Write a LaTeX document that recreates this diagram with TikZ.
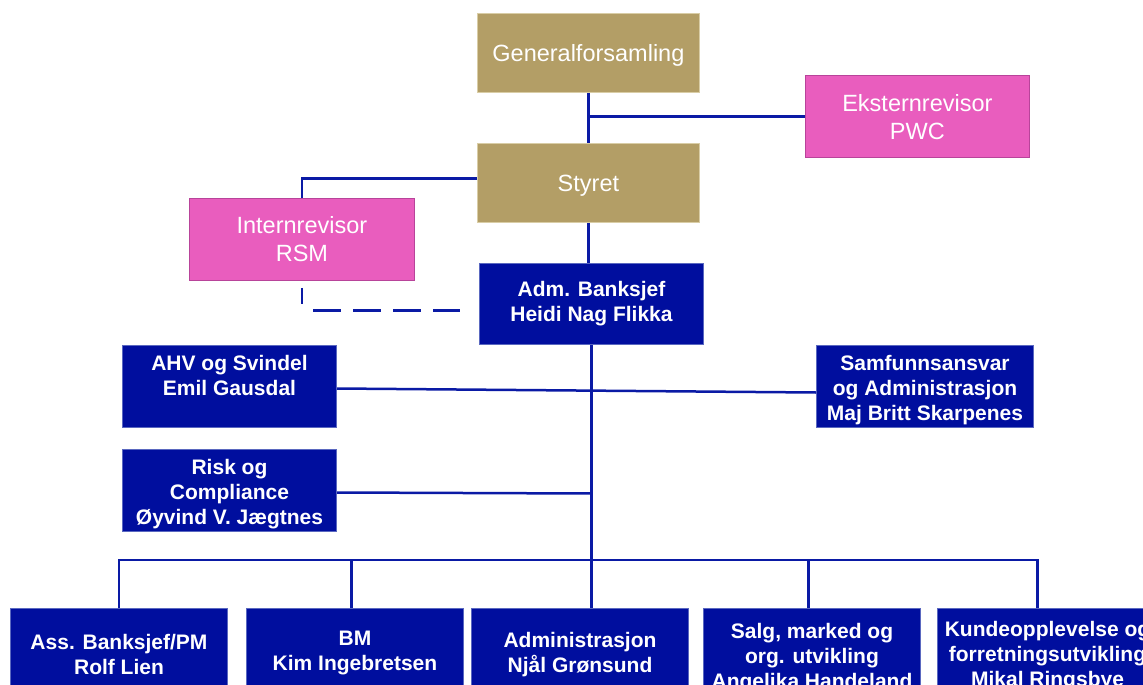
\documentclass[tikz,border=0pt]{standalone}
\usepackage{fontspec}
\setmainfont{Liberation Sans}
\definecolor{gold}{HTML}{B39E66}
\definecolor{goldedge}{HTML}{D9CDA6}
\definecolor{pinkbox}{HTML}{E95DBE}
\definecolor{pinkedge}{HTML}{B8449A}
\definecolor{bluebox}{HTML}{000E9E}
\definecolor{blueedge}{HTML}{5A68C0}
\definecolor{linkblue}{HTML}{0A1AA5}
\newcommand{\tp}[1]{\rule{0pt}{#1}}
\begin{document}
\begin{tikzpicture}[x=1pt,y=-1pt,
  box/.style={anchor=north west, inner sep=0pt, align=center, text=white},
  goldbox/.style={box, fill=gold, draw=goldedge, line width=0.8pt,
     font=\fontsize{23.5}{28}\selectfont},
  pinkbx/.style={box, fill=pinkbox, draw=pinkedge, line width=0.8pt,
     font=\fontsize{23.5}{28}\selectfont},
  bluebx/.style={box, fill=bluebox, draw=blueedge, line width=1pt,
     font=\bfseries\fontsize{21}{25}\selectfont},
  link/.style={draw=linkblue, line width=2.5pt},
  dlink/.style={draw=linkblue, line width=2.5pt,
     dash pattern=on 16pt off 18pt on 28pt off 12pt on 28pt off 12pt on 28pt off 12pt on 28pt off 60pt}
]
\useasboundingbox (0,0) rectangle (1143,685);
\clip (0,0) rectangle (1143,685);

% nodes
\node[goldbox, minimum width=222pt, minimum height=79pt] (gen) at (477,13) {\tp{23pt}Generalforsamling};
\node[pinkbx, minimum width=224pt, minimum height=82pt] (eks) at (805,75) {\tp{19pt}Eksternrevisor\\PWC};
\node[goldbox, minimum width=222pt, minimum height=79pt] (sty) at (477,143) {\tp{23pt}Styret};
\node[pinkbx, minimum width=225pt, minimum height=82pt] (int) at (189,198) {Internrevisor\\RSM};
\node[bluebx, minimum width=224pt, minimum height=81pt] (adm) at (479,263) {Adm. Banksjef\\Heidi Nag Flikka};
\node[bluebx, minimum width=214pt, minimum height=82pt] (ahv) at (122,345) {\tp{23pt}AHV og Svindel\\Emil Gausdal\\\rule[-4.5pt]{0pt}{4.5pt}};
\node[bluebx, minimum width=217pt, minimum height=82pt] (sam) at (816,345) {\tp{23pt}Samfunnsansvar\\og Administrasjon\\Maj Britt Skarpenes};
\node[bluebx, minimum width=214pt, minimum height=82pt] (risk) at (122,449) {\tp{23pt}Risk og\\Compliance\\Øyvind V. Jægtnes};
\node[bluebx, minimum width=217pt, minimum height=92pt] (b1) at (10,608) {Ass. Banksjef/PM\\Rolf Lien};
\node[bluebx, minimum width=217pt, minimum height=88pt] (b2) at (246,608) {BM\\Kim Ingebretsen};
\node[bluebx, minimum width=217pt, minimum height=92pt] (b3) at (471,608) {Administrasjon\\Njål Grønsund};
\node[bluebx, minimum width=217pt, minimum height=94pt] (b4) at (703,608) {\tp{19.5pt}Salg, marked og\\org. utvikling\\Angelika Handeland};
\node[bluebx, minimum width=220pt, minimum height=90pt] (b5) at (937,608) {\tp{19.5pt}Kundeopplevelse og\\forretningsutvikling\\Mikal Ringsbye};

% connectors
\draw[link] (gen.south) -- (sty.north);
\draw[link] (eks.west) -- (eks.west -| gen.south);
\draw[link] ([yshift=4.5pt]sty.west) -| (int.north);
\draw[link] (sty.south) -- (sty.south |- adm.north);
\coordinate (dstart) at ([yshift=-7pt]int.south);
\coordinate (dend) at ([xshift=-19pt,yshift=-6.5pt]adm.west);
\draw[dlink] (dstart) |- (dend);
\coordinate (bus) at ([yshift=48pt]b3.north -| adm.south);
\draw[link] (adm.south) -- (adm.south |- b3.north);
\draw[link] ([yshift=-2pt]ahv.east) -- ([yshift=-6pt]sam.west);
\draw[link] ([yshift=-2pt]risk.east) -- ([yshift=-3pt]risk.east -| adm.south);
\draw[link] (b1.north) |- (bus);
\draw[link] ([xshift=-3.5pt]b2.north) -- ([xshift=-3.5pt]b2.north |- bus);
\draw[link] ([xshift=-3.5pt]b4.north) |- (bus);
\draw[link] ([xshift=-10pt]b5.north) |- (bus);
\end{tikzpicture}
\end{document}
